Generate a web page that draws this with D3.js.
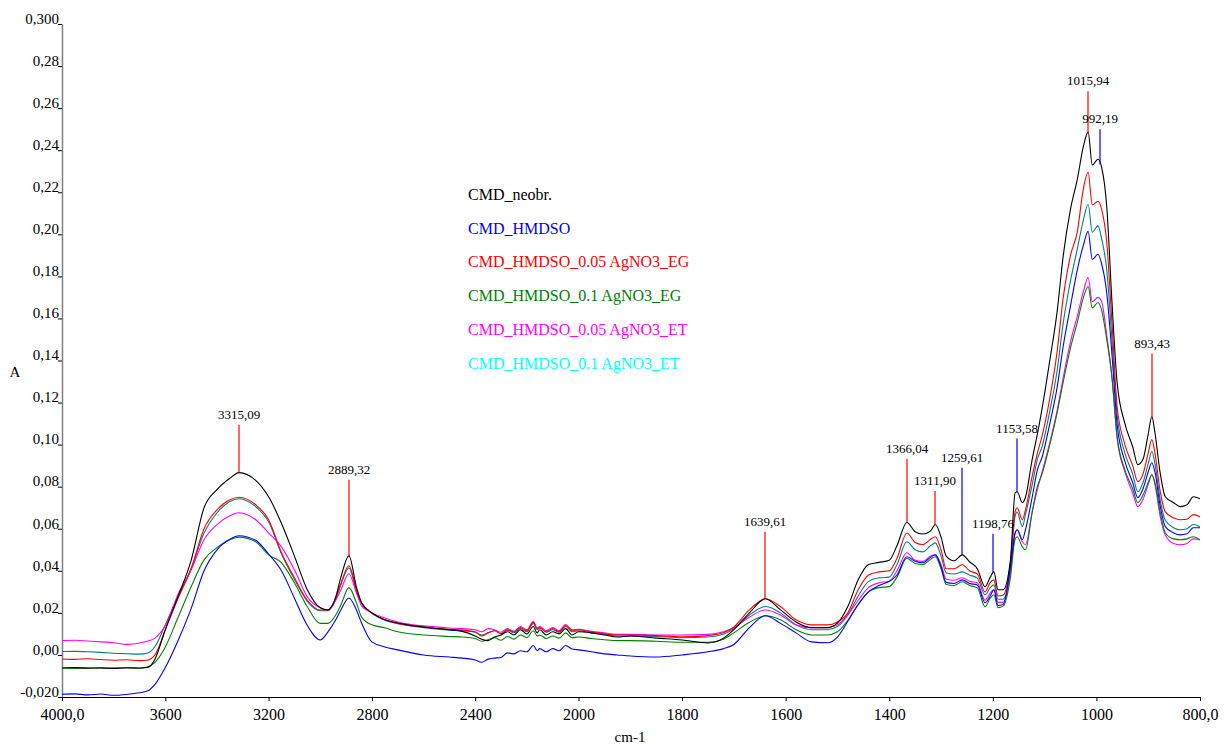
<!DOCTYPE html>
<html>
<head>
<meta charset="UTF-8">
<script src="https://d3js.org/d3.v7.min.js"></script>
<style>
  body { margin: 0; background: #fff; }
  svg text { font-family: "Liberation Serif", "Times New Roman", serif; fill: #000; }
  .tick text { font-size: 15px; }
</style>
</head>
<body>
<svg id="chart" width="1224" height="745"></svg>
<script>
// wavenumbers, cm-1 (descending)
const wavenumbers = [
  4000, 3950, 3900, 3850, 3800, 3750, 3700, 3670, 3640, 3600, 3550, 3500, 3450, 3400, 3350, 3315, 3250, 3200,
  3150, 3100, 3050, 3000, 2970, 2940, 2920, 2889, 2860, 2840, 2800, 2750, 2700, 2600,
  2500, 2450, 2400, 2375, 2350, 2325, 2300, 2275, 2250, 2225, 2200, 2175, 2160, 2150, 2125, 2100, 2075, 2050, 2025, 2000, 1975, 1950, 1925, 1900,
  1850, 1800, 1750, 1720, 1700, 1670, 1639, 1610, 1580, 1550, 1520, 1500, 1480, 1460, 1440, 1420,
  1400, 1385, 1366, 1350, 1335, 1320, 1311, 1300, 1290, 1275, 1259, 1245, 1230, 1215, 1205, 1198, 1190, 1180, 1166,
  1157, 1153, 1143, 1137, 1124, 1114, 1105, 1090, 1076, 1064, 1050, 1037, 1025, 1016,
  1008, 997, 990, 980, 970, 960, 945, 930, 920, 910, 900, 893, 887, 877, 867, 851, 838, 825, 813, 800
];

const neobr = [
  -0.0062, -0.0060, -0.0063, -0.0061, -0.0064, -0.0062, -0.0062, -0.0060, -0.0020, 0.0120, 0.0280, 0.0450, 0.0700, 0.0786, 0.0840, 0.0867, 0.0830, 0.0752,
  0.0625, 0.0470, 0.0310, 0.0224, 0.0214, 0.0276, 0.0370, 0.0471, 0.0324, 0.0248, 0.0200, 0.0167, 0.0152, 0.0133,
  0.0120, 0.0112, 0.0090, 0.0075, 0.0068, 0.0085, 0.0095, 0.0110, 0.0095, 0.0120, 0.0100, 0.0135, 0.0105, 0.0120, 0.0095, 0.0110, 0.0100, 0.0125, 0.0095, 0.0110, 0.0105, 0.0095, 0.0085, 0.0090,
  0.0080, 0.0071, 0.0057, 0.0080, 0.0120, 0.0200, 0.0267, 0.0214, 0.0157, 0.0129, 0.0130, 0.0152, 0.0230, 0.0357, 0.0430, 0.0440,
  0.0450, 0.0520, 0.0630, 0.0586, 0.0575, 0.0590, 0.0620, 0.0560, 0.0470, 0.0448, 0.0476, 0.0443, 0.0410, 0.0324, 0.0370, 0.0395, 0.0310, 0.0310, 0.0452,
  0.0770, 0.0776, 0.0724, 0.0750, 0.0930, 0.1050, 0.1170, 0.1400, 0.1630, 0.1900, 0.2120, 0.2260, 0.2420, 0.2486,
  0.2330, 0.2357, 0.2320, 0.2130, 0.1680, 0.1295, 0.1100, 0.0990, 0.0905, 0.0930, 0.1050, 0.1133, 0.1057, 0.0867, 0.0752, 0.0724, 0.0705, 0.0714, 0.0752, 0.0743
];

const hmdso = [
  -0.0187, -0.0185, -0.0190, -0.0186, -0.0192, -0.0188, -0.0180, -0.0172, -0.0140, -0.0060, 0.0070, 0.0220, 0.0400, 0.0500, 0.0550, 0.0567, 0.0545, 0.0480,
  0.0400, 0.0270, 0.0140, 0.0071, 0.0110, 0.0167, 0.0214, 0.0271, 0.0214, 0.0152, 0.0062, 0.0038, 0.0024, 0.0000,
  -0.0010, -0.0015, -0.0024, -0.0035, -0.0020, -0.0015, -0.0012, 0.0010, 0.0005, 0.0020, 0.0015, 0.0045, 0.0020, 0.0030, 0.0015, 0.0030, 0.0020, 0.0045, 0.0028, 0.0024, 0.0015, 0.0005, 0.0000, -0.0005,
  -0.0010, 0.0000, 0.0015, 0.0030, 0.0050, 0.0130, 0.0186, 0.0150, 0.0105, 0.0062, 0.0058, 0.0085, 0.0160, 0.0240, 0.0300, 0.0330,
  0.0350, 0.0380, 0.0467, 0.0445, 0.0438, 0.0465, 0.0476, 0.0420, 0.0345, 0.0340, 0.0357, 0.0340, 0.0333, 0.0248, 0.0280, 0.0310, 0.0235, 0.0240, 0.0420,
  0.0580, 0.0595, 0.0548, 0.0595, 0.0750, 0.0880, 0.0940, 0.1100, 0.1270, 0.1470, 0.1660, 0.1830, 0.1950, 0.2014,
  0.1880, 0.1905, 0.1860, 0.1720, 0.1430, 0.1095, 0.0920, 0.0820, 0.0748, 0.0790, 0.0870, 0.0914, 0.0870, 0.0710, 0.0610, 0.0580, 0.0571, 0.0576, 0.0605, 0.0605
];

const ag005EG = [
  -0.0019, -0.0021, -0.0018, -0.0022, -0.0025, -0.0023, -0.0027, -0.0025, 0.0000, 0.0120, 0.0270, 0.0410, 0.0600, 0.0690, 0.0738, 0.0750, 0.0714, 0.0643,
  0.0486, 0.0367, 0.0260, 0.0214, 0.0214, 0.0270, 0.0340, 0.0424, 0.0310, 0.0248, 0.0200, 0.0167, 0.0150, 0.0133,
  0.0122, 0.0118, 0.0110, 0.0090, 0.0105, 0.0115, 0.0100, 0.0120, 0.0110, 0.0130, 0.0115, 0.0155, 0.0125, 0.0130, 0.0110, 0.0125, 0.0110, 0.0140, 0.0115, 0.0120, 0.0110, 0.0100, 0.0095, 0.0095,
  0.0092, 0.0086, 0.0092, 0.0105, 0.0133, 0.0214, 0.0267, 0.0230, 0.0167, 0.0143, 0.0143, 0.0157, 0.0200, 0.0310, 0.0380, 0.0395,
  0.0400, 0.0460, 0.0580, 0.0535, 0.0525, 0.0550, 0.0562, 0.0500, 0.0410, 0.0410, 0.0429, 0.0400, 0.0385, 0.0300, 0.0345, 0.0357, 0.0280, 0.0285, 0.0438,
  0.0680, 0.0700, 0.0643, 0.0690, 0.0850, 0.0960, 0.1040, 0.1220, 0.1440, 0.1700, 0.1900, 0.2010, 0.2220, 0.2295,
  0.2140, 0.2157, 0.2120, 0.1960, 0.1580, 0.1180, 0.1000, 0.0900, 0.0824, 0.0860, 0.0960, 0.1024, 0.0960, 0.0780, 0.0680, 0.0652, 0.0643, 0.0645, 0.0667, 0.0657
];

const ag01EG = [
  -0.0062, -0.0064, -0.0061, -0.0063, -0.0062, -0.0060, -0.0063, -0.0058, -0.0035, 0.0038, 0.0180, 0.0324, 0.0452, 0.0510, 0.0548, 0.0560, 0.0538, 0.0476,
  0.0438, 0.0343, 0.0229, 0.0150, 0.0150, 0.0190, 0.0238, 0.0320, 0.0248, 0.0180, 0.0143, 0.0129, 0.0110, 0.0095,
  0.0088, 0.0085, 0.0078, 0.0065, 0.0072, 0.0082, 0.0070, 0.0088, 0.0075, 0.0095, 0.0082, 0.0115, 0.0090, 0.0095, 0.0078, 0.0090, 0.0080, 0.0105, 0.0082, 0.0085, 0.0078, 0.0072, 0.0068, 0.0068,
  0.0065, 0.0060, 0.0060, 0.0075, 0.0105, 0.0155, 0.0186, 0.0167, 0.0120, 0.0095, 0.0095, 0.0110, 0.0165, 0.0240, 0.0300, 0.0320,
  0.0325, 0.0370, 0.0460, 0.0435, 0.0430, 0.0455, 0.0467, 0.0410, 0.0335, 0.0330, 0.0348, 0.0330, 0.0319, 0.0229, 0.0270, 0.0286, 0.0225, 0.0232, 0.0370,
  0.0550, 0.0562, 0.0514, 0.0500, 0.0680, 0.0800, 0.0860, 0.1000, 0.1150, 0.1300, 0.1460, 0.1580, 0.1700, 0.1752,
  0.1650, 0.1676, 0.1640, 0.1500, 0.1320, 0.1038, 0.0880, 0.0790, 0.0724, 0.0760, 0.0820, 0.0857, 0.0820, 0.0680, 0.0580, 0.0552, 0.0548, 0.0552, 0.0562, 0.0548
];

const ag005ET = [
  0.0068, 0.0070, 0.0066, 0.0062, 0.0058, 0.0050, 0.0057, 0.0065, 0.0080, 0.0140, 0.0290, 0.0405, 0.0548, 0.0620, 0.0662, 0.0676, 0.0643, 0.0580,
  0.0514, 0.0405, 0.0276, 0.0224, 0.0214, 0.0260, 0.0310, 0.0386, 0.0295, 0.0233, 0.0200, 0.0176, 0.0157, 0.0138,
  0.0128, 0.0125, 0.0120, 0.0110, 0.0125, 0.0120, 0.0108, 0.0125, 0.0112, 0.0135, 0.0120, 0.0160, 0.0128, 0.0135, 0.0115, 0.0130, 0.0115, 0.0145, 0.0120, 0.0122, 0.0112, 0.0105, 0.0098, 0.0098,
  0.0095, 0.0095, 0.0098, 0.0110, 0.0129, 0.0180, 0.0214, 0.0190, 0.0143, 0.0130, 0.0130, 0.0143, 0.0190, 0.0260, 0.0320, 0.0343,
  0.0350, 0.0400, 0.0486, 0.0450, 0.0445, 0.0470, 0.0476, 0.0430, 0.0360, 0.0355, 0.0367, 0.0350, 0.0343, 0.0260, 0.0295, 0.0310, 0.0250, 0.0250, 0.0390,
  0.0580, 0.0595, 0.0538, 0.0524, 0.0680, 0.0786, 0.0870, 0.1010, 0.1160, 0.1320, 0.1490, 0.1610, 0.1730, 0.1795,
  0.1680, 0.1700, 0.1680, 0.1520, 0.1320, 0.1030, 0.0870, 0.0770, 0.0705, 0.0740, 0.0810, 0.0857, 0.0810, 0.0660, 0.0570, 0.0530, 0.0524, 0.0530, 0.0552, 0.0548
];

const ag01ET = [
  0.0016, 0.0017, 0.0015, 0.0012, 0.0008, 0.0006, 0.0004, 0.0008, 0.0040, 0.0143, 0.0280, 0.0410, 0.0580, 0.0676, 0.0730, 0.0743, 0.0705, 0.0633,
  0.0480, 0.0360, 0.0255, 0.0210, 0.0210, 0.0265, 0.0335, 0.0414, 0.0305, 0.0245, 0.0198, 0.0165, 0.0148, 0.0130,
  0.0118, 0.0115, 0.0108, 0.0095, 0.0105, 0.0115, 0.0102, 0.0118, 0.0105, 0.0125, 0.0110, 0.0150, 0.0120, 0.0128, 0.0108, 0.0120, 0.0108, 0.0135, 0.0110, 0.0115, 0.0105, 0.0098, 0.0090, 0.0090,
  0.0088, 0.0082, 0.0085, 0.0098, 0.0125, 0.0190, 0.0230, 0.0200, 0.0143, 0.0120, 0.0120, 0.0135, 0.0190, 0.0280, 0.0350, 0.0367,
  0.0370, 0.0430, 0.0538, 0.0500, 0.0490, 0.0520, 0.0533, 0.0470, 0.0390, 0.0385, 0.0395, 0.0380, 0.0365, 0.0286, 0.0320, 0.0333, 0.0265, 0.0265, 0.0420,
  0.0660, 0.0680, 0.0610, 0.0667, 0.0810, 0.0930, 0.0990, 0.1160, 0.1350, 0.1580, 0.1780, 0.1930, 0.2070, 0.2143,
  0.2010, 0.2040, 0.1980, 0.1830, 0.1500, 0.1140, 0.0960, 0.0860, 0.0776, 0.0820, 0.0910, 0.0967, 0.0910, 0.0740, 0.0640, 0.0605, 0.0595, 0.0600, 0.0620, 0.0610
];

const legendNames = ["CMD_neobr.", "CMD_HMDSO", "CMD_HMDSO_0.05 AgNO3_EG", "CMD_HMDSO_0.1 AgNO3_EG", "CMD_HMDSO_0.05 AgNO3_ET", "CMD_HMDSO_0.1 AgNO3_ET"];

const xTicks = [4000, 3600, 3200, 2800, 2400, 2000, 1800, 1600, 1400, 1200, 1000, 800];
const yTicks = [-0.02, 0, 0.02, 0.04, 0.06, 0.08, 0.10, 0.12, 0.14, 0.16, 0.18, 0.20, 0.22, 0.24, 0.26, 0.28, 0.30];

// peak picks: wavenumber, text, absorbance where the label sits
const peakWn = [3315.09, 2889.32, 1639.61, 1366.04, 1311.90, 1259.61, 1198.76, 1153.58, 1015.94, 992.19, 893.43];
const peakText = ["3315,09", "2889,32", "1639,61", "1366,04", "1311,90", "1259,61", "1198,76", "1153,58", "1015,94", "992,19", "893,43"];
const peakTop = [0.1095, 0.0833, 0.0586, 0.0933, 0.078, 0.089, 0.0576, 0.1029, 0.268, 0.250, 0.1433];

// styles
const lineColors = ["#000000", "#0000ff", "#ff0000", "#008000", "#ff00ff", "#008080"];
const legendColors = ["#000000", "#0000ff", "#ff0000", "#008000", "#ff00ff", "#00ffff"];
const peakColors = ["#ff0000", "#ff0000", "#ff0000", "#ff0000", "#ff0000", "#0000ff", "#0000ff", "#0000ff", "#ff0000", "#0000ff", "#ff0000"];

const svg = d3.select("#chart");

// the spectrum axis is expanded 2x below 2000 cm-1
const x = d3.scaleLinear().domain([4000, 2000, 800]).range([62, 578.5, 1200]);
const y = d3.scaleLinear().domain([-0.02, 0.30]).range([697, 24]);

const series = [neobr, hmdso, ag005EG, ag01EG, ag005ET, ag01ET];

// y axis
const yAxis = svg.append("g")
    .attr("transform", "translate(62,0)")
    .call(d3.axisLeft(y).tickValues(yTicks).tickSize(4).tickSizeOuter(0)
        .tickFormat(d => {
            if (Math.abs(d - 0.30) < 1e-9) return "0,300";
            if (Math.abs(d + 0.02) < 1e-9) return "-0,020";
            return d.toFixed(2).replace(".", ",");
        }));
yAxis.select(".domain").attr("stroke", "#808080").attr("stroke-width", 1.5);
yAxis.selectAll(".tick line").attr("stroke", "#000");
yAxis.selectAll(".tick text").attr("dy", "-0.05em").attr("x", -3);

// x axis
const xAxis = svg.append("g")
    .attr("transform", "translate(0,697)")
    .call(d3.axisBottom(x).tickValues(xTicks).tickSize(4).tickSizeOuter(0)
        .tickFormat(d => (d === 4000 || d === 800) ? d + ",0" : String(d)));
xAxis.select(".domain").attr("stroke", "#000");
xAxis.selectAll(".tick text").attr("y", 10).attr("dy", "0.8em").style("font-size", "16px");

svg.append("text").attr("x", 630).attr("y", 742).attr("text-anchor", "middle")
    .style("font-size", "15px").text("cm-1");
svg.append("text").attr("x", 15).attr("y", 377).attr("text-anchor", "middle")
    .style("font-size", "15px").text("A");

// spectra
const line = d3.line()
    .x(d => x(d[0]))
    .y(d => y(d[1]))
    .curve(d3.curveMonotoneX);

const drawOrder = [5, 4, 3, 2, 1, 0];
drawOrder.forEach(i => {
    const pts = wavenumbers.map((w, k) => [w, series[i][k]]);
    svg.append("path")
        .datum(pts)
        .attr("fill", "none")
        .attr("stroke", lineColors[i])
        .attr("stroke-width", 1.1)
        .attr("d", line);
});

// legend
legendNames.forEach((name, i) => {
    svg.append("text")
        .attr("x", 468)
        .attr("y", 200 + i * 33.7)
        .style("fill", legendColors[i])
        .style("font-size", "16px")
        .text(name);
});

// top curve value at a wavenumber, for the peak markers
function topAt(w) {
    const k = wavenumbers.findIndex(v => v <= w);
    const k0 = Math.max(0, k - 1);
    const t = wavenumbers[k0] === wavenumbers[k] ? 0 : (wavenumbers[k0] - w) / (wavenumbers[k0] - wavenumbers[k]);
    return d3.max(series, s => s[k0] + (s[k] - s[k0]) * t);
}

peakWn.forEach((w, i) => {
    const px = Math.round(x(w));
    svg.append("line")
        .attr("x1", px).attr("x2", px)
        .attr("y1", y(peakTop[i])).attr("y2", y(topAt(w)))
        .attr("stroke", peakColors[i])
        .attr("stroke-width", 1.2);
    svg.append("text")
        .attr("x", px)
        .attr("y", y(peakTop[i]) - 6)
        .attr("text-anchor", "middle")
        .style("font-size", "13px")
        .text(peakText[i]);
});
</script>
</body>
</html>
